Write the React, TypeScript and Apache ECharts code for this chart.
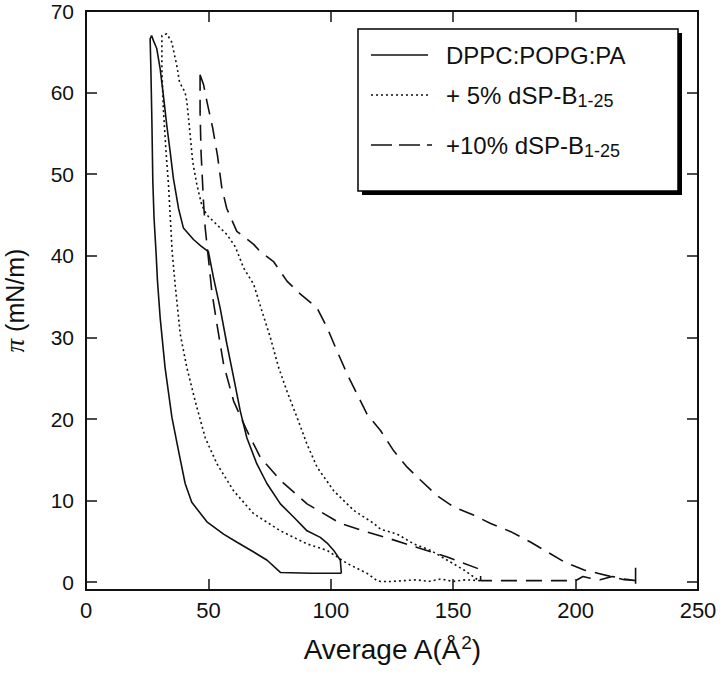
import React, { useEffect, useRef } from "react";
import * as echarts from "echarts";

const FONT = "'Liberation Sans', Arial, Helvetica, sans-serif";

const xTicks = [0, 50, 100, 150, 200, 250];
const yTicks = [0, 10, 20, 30, 40, 50, 60, 70];
const yMin = -0.95;
const yMax = 70;

const seriesNames = ["DPPC:POPG:PA", "+ 5% dSP-B1-25", "+10% dSP-B1-25"];

// DPPC:POPG:PA loop (area Å², surface pressure mN/m)
const dppcArea = [
  104.3, 92, 79.4, 74, 68.5, 61.7, 56.2, 49.4, 43.2, 40.5, 37.8, 35.1, 32.3, 30.3, 29.2, 28.6,
  27.8, 27.3, 26.9, 26.5, 26.2, 26.8, 27.5, 28.9, 30.3, 31.6, 33, 34.4, 35.7, 37.8, 39.8, 43.9,
  47, 50, 52.1, 54.8, 57.6, 60.3, 63, 65.7, 69.8, 73.9, 79.4, 84.8, 90.3, 95.7, 98.5, 101.2,
  103.9, 104.3,
];
const dppcPressure = [
  1.1, 1.1, 1.2, 2.7, 3.7, 4.9, 5.9, 7.4, 9.8, 12.1, 16.1, 20.2, 26.3, 32.4, 36.9, 40.5,
  44.6, 49.1, 56.8, 62.9, 66.6, 67, 66.4, 65.4, 62.9, 59.7, 56, 52.7, 49.5, 45.8, 43.4, 42,
  41.2, 40.5, 37.3, 33.6, 29.1, 25.1, 21, 17.7, 14.5, 12.1, 9.6, 8, 6.3, 5.5, 4.8, 3.9,
  2.7, 1.1,
];

// + 5% dSP-B1-25 loop
const sp5Area = [
  161, 155, 150, 145, 140, 135, 130, 125, 120.3, 118.9, 114.8, 106.7, 98.5, 90.3, 79.4, 68.5,
  60.3, 53.5, 48.7, 44.6, 41.2, 38.5, 36.4, 35.2, 33.7, 32.7, 31.6, 31, 31, 33, 35, 37.1,
  38.2, 40.5, 41.2, 42.3, 43.6, 45.3, 47.3, 49.4, 53.5, 57.6, 61, 64.4, 68.5, 71.9, 75.3, 78.7,
  82.1, 86.2, 90.3, 94.4, 101.2, 109.4, 117.6, 120.3, 127.1, 133.9, 140.8, 147.6, 154.4, 160.5, 161,
];
const sp5Pressure = [
  0.2, 0.3, 0.1, 0.4, 0.1, 0.3, 0.2, 0.1, 0.1, 0.2, 1.1, 2.3, 3.9, 4.7, 6.3, 8.4,
  11.2, 14.5, 17.7, 22.2, 26.3, 30.4, 36.5, 40.5, 48.7, 52.7, 58, 62.9, 67, 67.2, 66.2, 63.3,
  61.3, 60, 58.9, 55.6, 51.5, 48.7, 46.2, 45, 43.8, 42.6, 41.1, 38.5, 36.5, 33.2, 30, 26.3,
  23.4, 20.2, 16.9, 14.1, 11.2, 8.8, 7.2, 6.5, 5.9, 4.7, 3.9, 2.7, 1.5, 0.2, 0.2,
];

// +10% dSP-B1-25 loop
const sp10Area = [
  46.6, 46.6, 47, 48, 48.7, 50, 51.4, 53.5, 56.2, 60.3, 65.7, 71.2, 79.4, 90.3, 104, 117.6,
  124.4, 135, 147.6, 159.9, 161.2, 161.2, 185, 200, 203, 206, 210, 215, 220, 224.5, 224.5, 224.5,
  224.5, 219.9, 215.8, 209, 203.5, 195.3, 188.5, 181.7, 173.5, 165.3, 158.5, 150.3, 143.5, 136.7,
  131.2, 125.7, 120.3, 114.8, 110.8, 106.7, 102.6, 98.5, 94.4, 87.6, 82.1, 76.6, 71.2, 68.5, 61.6,
  57.5, 55.5, 53.7, 51.8, 49.4, 48, 46.6,
];
const sp10Pressure = [
  62.2, 57.7, 52.7, 46.6, 43.4, 39.7, 35.6, 31.6, 26.7, 22.2, 18.6, 15.3, 12.5, 9.6, 7.2, 5.9,
  5.3, 4.3, 3.1, 1.7, 1.5, 0.2, 0.2, 0.2, 0.7, 0.5, 0.3, 0.7, 0.4, 0.2, 1.8, -0.5,
  0.2, 0.3, 0.6, 1.1, 1.5, 2.5, 3.7, 4.9, 6.2, 7.2, 8.2, 9.2, 10.6, 12.5,
  14.1, 16.1, 18.6, 20.6, 23, 25.5, 28.3, 31.2, 33.6, 35.3, 36.9, 39.3, 40.5, 41.4, 43,
  45.8, 48.3, 52.3, 55.6, 58.9, 61, 62.2,
];

const zip = (xs: number[], ys: number[]) => xs.map((x, i) => [x, ys[i]]);

export default function App() {
  const ref = useRef<HTMLDivElement>(null);

  useEffect(() => {
    if (!ref.current) return;
    const chart = echarts.init(ref.current, undefined, { renderer: "svg" });
    const ink = "#111";
    const lineSeries = (name: string, data: number[][], lineStyle: any) => ({
      name,
      type: "line",
      data,
      showSymbol: false,
      symbol: "none",
      smooth: false,
      clip: true,
      lineStyle: { color: ink, ...lineStyle },
      emphasis: { disabled: true },
    });

    const legendText = (text: string, y: number) => ({
      type: "text",
      z: 102,
      x: 446,
      y,
      style: {
        text,
        fontSize: 24,
        fontFamily: FONT,
        fill: ink,
        lineHeight: 30,
        verticalAlign: "middle",
        align: "left",
        rich: { sub: { fontSize: 18, lineHeight: 18, verticalAlign: "bottom", fontFamily: FONT, fill: ink } },
      },
    });

    chart.setOption({
      animation: false,
      backgroundColor: "#ffffff",
      grid: { left: 86, right: 22, top: 11, bottom: 84, outerBoundsMode: "none" },
      xAxis: [
        {
          type: "value",
          position: "bottom",
          min: xTicks[0],
          max: xTicks[xTicks.length - 1],
          interval: 50,
          axisLine: { show: true, onZero: false, lineStyle: { color: ink, width: 2 } },
          axisTick: { show: true, inside: true, length: 11, lineStyle: { color: ink, width: 1.5 } },
          axisLabel: { show: true, fontSize: 22, color: ink, fontFamily: FONT, margin: 9 },
          splitLine: { show: false },
          name: "Average A(Å{sup|2})",
          nameLocation: "middle",
          nameGap: 43,
          nameTextStyle: {
            fontSize: 28,
            color: ink,
            fontFamily: FONT,
            lineHeight: 32,
            rich: { sup: { fontSize: 19, lineHeight: 19, verticalAlign: "top", fontFamily: FONT, color: ink } },
          },
        },
        {
          type: "value",
          position: "top",
          min: xTicks[0],
          max: xTicks[xTicks.length - 1],
          interval: 50,
          axisLine: { show: true, onZero: false, lineStyle: { color: ink, width: 2 } },
          axisTick: { show: true, inside: true, length: 11, lineStyle: { color: ink, width: 1.5 } },
          axisLabel: { show: false },
          splitLine: { show: false },
        },
      ],
      yAxis: [
        {
          type: "value",
          position: "left",
          min: yMin,
          max: yMax,
          axisLine: { show: true, onZero: false, lineStyle: { color: ink, width: 2 } },
          axisTick: {
            show: true,
            inside: true,
            length: 11,
            customValues: yTicks,
            lineStyle: { color: ink, width: 1.5 },
          },
          axisLabel: { show: true, customValues: yTicks, fontSize: 21, color: ink, fontFamily: FONT, margin: 12 },
          splitLine: { show: false },
          name: "{it|π} (mN/m)",
          nameLocation: "middle",
          nameGap: 58,
          nameRotate: 90,
          nameTextStyle: {
            fontSize: 25,
            color: ink,
            fontFamily: FONT,
            rich: {
              it: { fontSize: 27, fontStyle: "italic", fontFamily: "'Liberation Serif', 'DejaVu Serif', serif", color: ink },
            },
          },
        },
        {
          type: "value",
          position: "right",
          min: yMin,
          max: yMax,
          axisLine: { show: true, onZero: false, lineStyle: { color: ink, width: 2 } },
          axisTick: {
            show: true,
            inside: true,
            length: 11,
            customValues: yTicks,
            lineStyle: { color: ink, width: 1.5 },
          },
          axisLabel: { show: false, customValues: yTicks },
          splitLine: { show: false },
        },
      ],
      series: [
        lineSeries(seriesNames[0], zip(dppcArea, dppcPressure), { width: 1.6, type: "solid" }),
        lineSeries(seriesNames[1], zip(sp5Area, sp5Pressure), { width: 1.6, type: [2, 3] }),
        lineSeries(seriesNames[2], zip(sp10Area, sp10Pressure), { width: 1.6, type: [16, 9] }),
      ],
      graphic: [
        { type: "rect", z: 100, shape: { x: 362, y: 33, width: 320, height: 162 }, style: { fill: "#000" } },
        {
          type: "rect",
          z: 101,
          shape: { x: 358, y: 29, width: 320, height: 162 },
          style: { fill: "#fff", stroke: "#000", lineWidth: 1.5 },
        },
        { type: "line", z: 102, shape: { x1: 371, y1: 55, x2: 428, y2: 55 }, style: { stroke: ink, lineWidth: 1.5 } },
        {
          type: "line",
          z: 102,
          shape: { x1: 371, y1: 95, x2: 428, y2: 95 },
          style: { stroke: ink, lineWidth: 1.5, lineDash: [2, 3] },
        },
        {
          type: "line",
          z: 102,
          shape: { x1: 371, y1: 145, x2: 432, y2: 145 },
          style: { stroke: ink, lineWidth: 1.5, lineDash: [21, 7] },
        },
        legendText(seriesNames[0], 55),
        legendText("+ 5% dSP-B{sub|1-25}", 95),
        legendText("+10% dSP-B{sub|1-25}", 145),
      ],
    });

    return () => chart.dispose();
  }, []);

  return (
    <div
      ref={ref}
      style={{ position: "absolute", left: 0, top: 0, width: 720, height: 674, background: "#fff" }}
    />
  );
}
